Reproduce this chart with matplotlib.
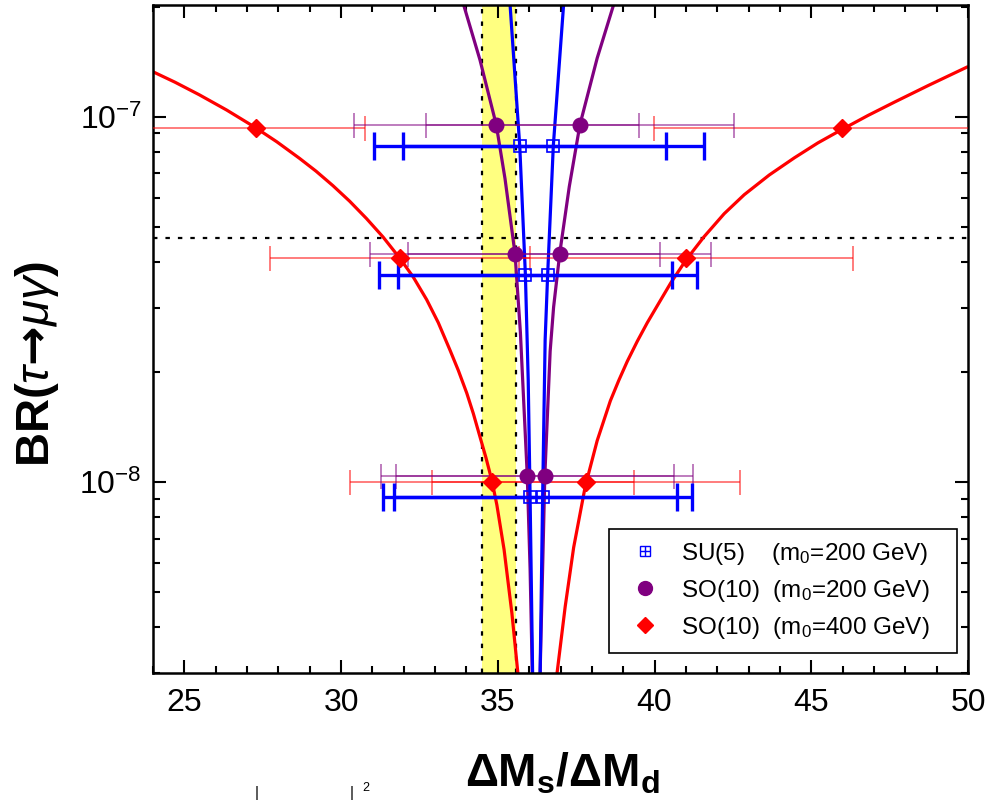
import matplotlib
matplotlib.use("Agg")
import matplotlib.pyplot as plt
from matplotlib.ticker import MultipleLocator, FixedLocator, LogLocator, NullFormatter
from matplotlib.lines import Line2D

plt.rcParams['font.family'] = ['Liberation Sans', 'DejaVu Sans']
plt.rcParams['mathtext.fontset'] = 'custom'
plt.rcParams['mathtext.rm'] = 'Liberation Sans'
plt.rcParams['mathtext.it'] = 'Liberation Sans:italic'
plt.rcParams['mathtext.bf'] = 'Liberation Sans:bold'
plt.rcParams['mathtext.sf'] = 'DejaVu Sans:bold'

# --- data ---
# SU(5), m0=200 GeV
su5_br = [8.3e-8, 3.69e-8, 9.1e-9]
su5_lo = [35.70, 35.88, 36.03]
su5_lo_err = [4.65, 4.67, 4.70]
su5_hi = [36.77, 36.59, 36.43]
su5_hi_err = [4.80, 4.77, 4.75]

# SO(10), m0=200 GeV
so10a_br = [9.5e-8, 4.21e-8, 1.04e-8]
so10a_lo = [34.95, 35.55, 35.94]
so10a_lo_err = [4.55, 4.63, 4.68]
so10a_hi = [37.62, 36.98, 36.50]
so10a_hi_err = [4.90, 4.83, 4.74]

# SO(10), m0=400 GeV
so10b_br = [9.33e-8, 4.1e-8, 1.0e-8]
so10b_lo = [27.27, 31.87, 34.81]
so10b_lo_err = [3.50, 4.15, 4.53]
so10b_hi = [45.97, 41.00, 37.82]
so10b_hi_err = [6.00, 5.33, 4.92]

# curves (left and right branches)
su5_curve_lx = [35.39, 35.70, 35.88, 35.97, 36.03, 36.11]
su5_curve_ly = [2.03e-7, 8.3e-8, 3.69e-8, 1.90e-8, 9.1e-9, 3.0e-9]
su5_curve_rx = [37.10, 36.77, 36.59, 36.51, 36.43, 36.35]
su5_curve_ry = [2.03e-7, 8.3e-8, 3.69e-8, 2.45e-8, 9.1e-9, 3.0e-9]

so10a_curve_lx = [33.86, 34.43, 34.95, 35.23, 35.55, 35.72, 35.94, 36.03, 36.10]
so10a_curve_ly = [2.09e-7, 1.43e-7, 9.5e-8, 6.76e-8, 4.21e-8, 2.57e-8, 1.04e-8, 5.78e-9, 3.0e-9]
so10a_curve_rx = [38.70, 38.17, 37.62, 37.28, 36.98, 36.78, 36.67, 36.50, 36.35]
so10a_curve_ry = [2.03e-7, 1.445e-7, 9.5e-8, 6.43e-8, 4.25e-8, 3.01e-8, 2.28e-8, 1.04e-8, 3.0e-9]

so10b_curve_lx = [23.97, 24.70, 25.47, 26.35, 27.25, 27.95, 28.67, 29.20, 29.74, 30.27, 30.81,
                  31.34, 31.87, 32.30, 32.73, 33.10, 33.47, 33.74, 34.01, 34.22, 34.43,
                  34.62, 34.81, 34.97, 35.20, 35.45, 35.64]
so10b_curve_ly = [1.33e-7, 1.242e-7, 1.148e-7, 1.042e-7, 9.35e-8, 8.53e-8, 7.69e-8, 7.09e-8, 6.47e-8,
                  5.87e-8, 5.26e-8, 4.68e-8, 4.10e-8, 3.64e-8, 3.155e-8, 2.73e-8, 2.30e-8, 2.02e-8,
                  1.75e-8, 1.538e-8, 1.33e-8, 1.167e-8, 1.009e-8, 8.65e-9, 6.53e-9, 4.37e-9, 3.0e-9]
so10b_curve_rx = [36.89, 37.15, 37.42, 37.79, 38.17, 38.59, 38.86, 39.13, 39.45, 39.77, 40.15,
                  40.52, 41.00, 41.58, 42.22, 42.86, 43.66, 44.46, 45.21, 45.96, 46.81,
                  47.66, 48.73, 49.96]
so10b_curve_ry = [3.0e-9, 4.56e-9, 6.62e-9, 9.73e-9, 1.297e-8, 1.667e-8, 1.897e-8, 2.138e-8, 2.427e-8,
                  2.729e-8, 3.10e-8, 3.508e-8, 4.046e-8, 4.69e-8, 5.42e-8, 6.11e-8, 6.92e-8, 7.71e-8,
                  8.47e-8, 9.20e-8, 1.007e-7, 1.096e-7, 1.216e-7, 1.365e-7]

band_lo, band_hi = 34.48, 35.57   # measured ratio band
br_limit = 4.66e-8                # experimental bound

legend_labels = ['SU(5)    (m$_0$=200 GeV)',
                 'SO(10)  (m$_0$=200 GeV)',
                 'SO(10)  (m$_0$=400 GeV)']

BLUE = '#0000ff'
PURPLE = '#800080'
RED = '#ff0000'

fig = plt.figure(figsize=(9.89, 8.0), dpi=100)
ax = fig.add_axes([153 / 989, 1 - 673 / 800, 815 / 989, 668 / 800])
ax.set_yscale('log')
ax.set_xlim(24, 50)
ax.set_ylim(3.0e-9, 2.02e-7)

# band and limits
ax.axvspan(band_lo, band_hi, color='#ffff80', lw=0, zorder=0)
dots = (0, (2, 3.6))
for xv in (band_lo, band_hi):
    ax.axvline(xv, color='k', lw=1.6, ls=dots, zorder=1)
ax.axhline(br_limit, color='k', lw=1.6, ls=dots, zorder=1)

# curves
for cx, cy, col in ((so10b_curve_lx, so10b_curve_ly, RED), (so10b_curve_rx, so10b_curve_ry, RED),
                    (so10a_curve_lx, so10a_curve_ly, PURPLE), (so10a_curve_rx, so10a_curve_ry, PURPLE),
                    (su5_curve_lx, su5_curve_ly, BLUE), (su5_curve_rx, su5_curve_ry, BLUE)):
    ax.plot(cx, cy, color=col, lw=2.3, solid_joinstyle='round', zorder=2)

# error bars
for xs, errs in ((so10b_lo, so10b_lo_err), (so10b_hi, so10b_hi_err)):
    ax.errorbar(xs, so10b_br, xerr=errs, fmt='none', ecolor=RED, elinewidth=1.2,
                capsize=9, capthick=1.2, alpha=0.6, zorder=3)
for xs, errs in ((so10a_lo, so10a_lo_err), (so10a_hi, so10a_hi_err)):
    ax.errorbar(xs, so10a_br, xerr=errs, fmt='none', ecolor=PURPLE, elinewidth=1.2,
                capsize=9, capthick=1.2, alpha=0.6, zorder=3)
for xs, errs in ((su5_lo, su5_lo_err), (su5_hi, su5_hi_err)):
    ax.errorbar(xs, su5_br, xerr=errs, fmt='none', ecolor=BLUE, elinewidth=2.4,
                capsize=10, capthick=2.4, zorder=3)

# markers
ax.plot(so10b_lo + so10b_hi, so10b_br + so10b_br, ls='none', marker='D', ms=9.5,
        color=RED, zorder=5)
ax.plot(so10a_lo + so10a_hi, so10a_br + so10a_br, ls='none', marker='o', ms=10.5,
        color=PURPLE, zorder=5)
ax.plot(su5_lo + su5_hi, su5_br + su5_br, ls='none', marker='s', ms=8.5,
        mfc='none', mec=BLUE, mew=1.2, zorder=5)

# axes styling
ax.xaxis.set_major_locator(FixedLocator([25, 30, 35, 40, 45, 50]))
ax.xaxis.set_minor_locator(MultipleLocator(1))
ax.yaxis.set_major_locator(LogLocator(base=10, numticks=10))
ax.yaxis.set_minor_locator(LogLocator(base=10, subs=range(2, 10), numticks=20))
ax.yaxis.set_minor_formatter(NullFormatter())
ax.tick_params(which='both', direction='in', top=True, right=True, width=1.5)
ax.tick_params(which='major', length=9.5, labelsize=23)
ax.tick_params(which='minor', length=5)
ax.tick_params(axis='x', which='major', pad=11)
ax.tick_params(axis='y', which='major', pad=8)
for sp in ax.spines.values():
    sp.set_linewidth(1.8)

fig.text(37 / 989, 1 - 364 / 800, r'$\mathbf{BR(}\tau\mathsf{→}\mu\gamma\mathbf{)}$',
         rotation=90, ha='center', va='center', fontsize=34)
fig.text(562 / 989, 1 - 787 / 800, r'$\mathbf{\Delta M_s/\Delta M_d}$',
         ha='center', va='baseline', fontsize=33)

# legend
h_su5 = (Line2D([], [], ls='none', marker='s', ms=7, mfc='none', mec=BLUE, mew=1),
         Line2D([], [], ls='none', marker='+', ms=7, mec=BLUE, mew=1))
h_a = Line2D([], [], ls='none', marker='o', ms=10, color=PURPLE)
h_b = Line2D([], [], ls='none', marker='D', ms=8, color=RED)
leg = ax.legend([h_su5, h_a, h_b], legend_labels, loc='lower left',
                bbox_to_anchor=(0.5595, 0.030, 0.427, 0.187), mode='expand',
                borderaxespad=0, fontsize=17.5, frameon=True, fancybox=False,
                edgecolor='k', framealpha=1, handlelength=2.0, handletextpad=0.45,
                labelspacing=0.45, borderpad=0.5)
leg.get_frame().set_linewidth(1.2)

# cut-off text at the page bottom
fig.text(257 / 989, 1 - 786 / 800, '|', ha='center', va='top', fontsize=11)
fig.text(352 / 989, 1 - 786 / 800, '|', ha='center', va='top', fontsize=11)
fig.text(366 / 989, 1 - 782 / 800, '2', ha='center', va='top', fontsize=9)

fig.savefig('out.png', dpi=100)
